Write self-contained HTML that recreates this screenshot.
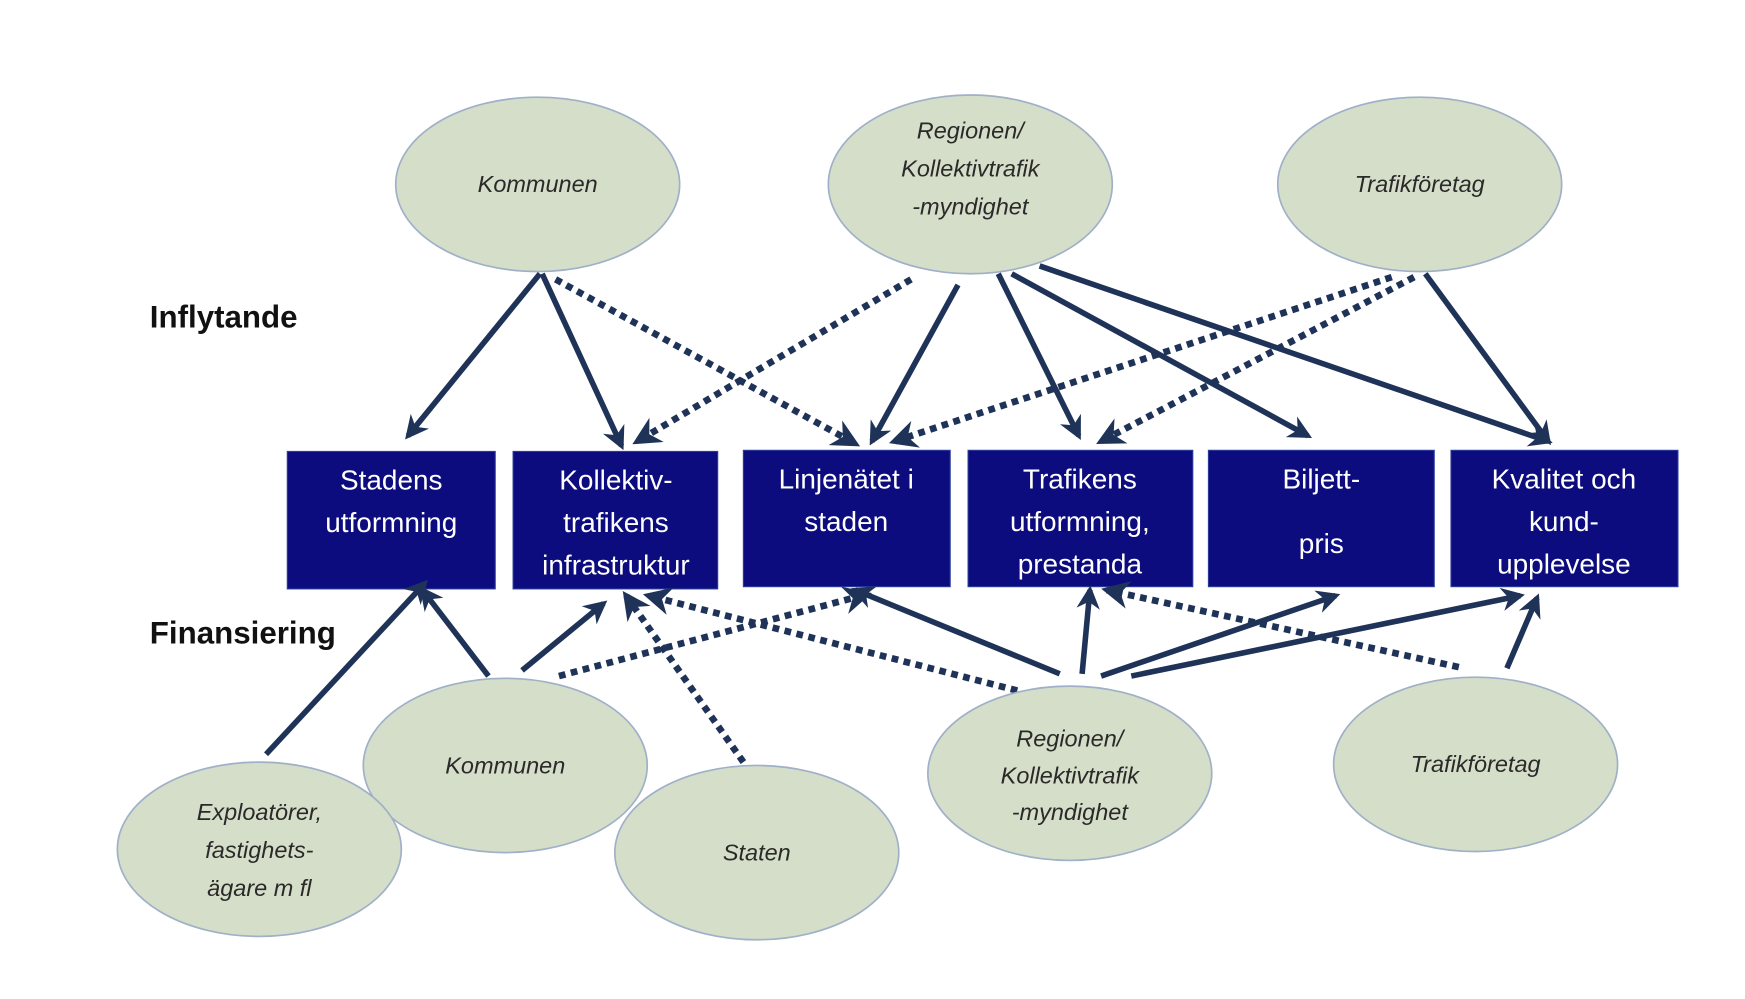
<!DOCTYPE html>
<html><head><meta charset="utf-8"><style>
html,body{margin:0;padding:0;background:#fff;}
svg{display:block;}
.el{fill:#d5dec8;stroke:#9fb0c8;stroke-width:1.5;}
.et{font-family:"Liberation Sans",sans-serif;font-style:italic;font-size:21px;fill:#2a2a2a;text-anchor:middle;}
.bx{fill:#0c0c7e;stroke:#2a3a9a;stroke-width:1;}
.bt{font-family:"Liberation Sans",sans-serif;font-size:25px;fill:#fff;text-anchor:middle;}
.s{stroke:#1f3358;stroke-width:5;fill:none;marker-end:url(#ah);}
.d{stroke:#1f3358;stroke-width:6;fill:none;stroke-dasharray:6 5;marker-end:url(#ah);}
.lb{font-family:"Liberation Sans",sans-serif;font-weight:bold;font-size:28px;fill:#111;}
</style></head><body>
<svg width="1745" height="999" viewBox="0 0 1561 894" preserveAspectRatio="none">
<defs><marker id="ah" viewBox="0 0 10 10" refX="8" refY="5" markerWidth="4.2" markerHeight="4.2" orient="auto" markerUnits="strokeWidth"><path d="M0,0 L10,5 L0,10 L3,5 z" fill="#1f3358"/></marker></defs>

<text class="lb" x="134" y="293">Inflytande</text>
<text class="lb" x="134" y="576">Finansiering</text>

<!-- top ellipses -->
<ellipse class="el" cx="481" cy="165" rx="127" ry="78"/>
<text class="et" x="481" y="172">Kommunen</text>
<ellipse class="el" cx="868" cy="165" rx="127" ry="80"/>
<text class="et" x="868" y="124">Regionen/</text>
<text class="et" x="868" y="158">Kollektivtrafik</text>
<text class="et" x="868" y="192">-myndighet</text>
<ellipse class="el" cx="1270" cy="165" rx="127" ry="78"/>
<text class="et" x="1270" y="172">Trafikföretag</text>

<!-- boxes -->
<rect class="bx" x="257" y="404" width="186" height="123"/>
<text class="bt" x="350" y="438">Stadens</text><text class="bt" x="350" y="476">utformning</text>
<rect class="bx" x="459" y="404" width="183" height="123"/>
<text class="bt" x="551" y="438">Kollektiv-</text><text class="bt" x="551" y="476">trafikens</text><text class="bt" x="551" y="514">infrastruktur</text>
<rect class="bx" x="665" y="403" width="185" height="122"/>
<text class="bt" x="757" y="437">Linjenätet i</text><text class="bt" x="757" y="475">staden</text>
<rect class="bx" x="866" y="403" width="201" height="122"/>
<text class="bt" x="966" y="437">Trafikens</text><text class="bt" x="966" y="475">utformning,</text><text class="bt" x="966" y="513">prestanda</text>
<rect class="bx" x="1081" y="403" width="202" height="122"/>
<text class="bt" x="1182" y="437">Biljett-</text><text class="bt" x="1182" y="495">pris</text>
<rect class="bx" x="1298" y="403" width="203" height="122"/>
<text class="bt" x="1399" y="437">Kvalitet och</text><text class="bt" x="1399" y="475">kund-</text><text class="bt" x="1399" y="513">upplevelse</text>

<!-- top arrows -->
<line class="s" x1="483" y1="245" x2="365" y2="390"/>
<line class="s" x1="485" y1="245" x2="556" y2="399"/>
<line class="d" x1="497" y1="250" x2="765" y2="397"/>
<line class="d" x1="815" y1="250" x2="570" y2="395"/>
<line class="s" x1="857" y1="255" x2="780" y2="395"/>
<line class="s" x1="893" y1="245" x2="965" y2="390"/>
<line class="s" x1="905" y1="245" x2="1170" y2="390"/>
<line class="s" x1="930" y1="238" x2="1385" y2="395"/>
<line class="d" x1="1245" y1="248" x2="800" y2="395"/>
<line class="d" x1="1265" y1="248" x2="985" y2="395"/>
<line class="s" x1="1275" y1="245" x2="1385" y2="395"/>

<!-- bottom arrows -->
<line class="s" x1="238" y1="675" x2="380" y2="522"/>
<line class="s" x1="437" y1="605" x2="378" y2="528"/>
<line class="s" x1="467" y1="600" x2="540" y2="540"/>
<line class="d" x1="500" y1="605" x2="775" y2="532"/>
<line class="d" x1="665" y1="682" x2="560" y2="533"/>
<line class="d" x1="910" y1="618" x2="580" y2="533"/>
<line class="s" x1="948" y1="603" x2="765" y2="528"/>
<line class="s" x1="968" y1="603" x2="975" y2="528"/>
<line class="s" x1="985" y1="605" x2="1195" y2="533"/>
<line class="s" x1="1012" y1="605" x2="1360" y2="533"/>
<line class="d" x1="1305" y1="597" x2="990" y2="528"/>
<line class="s" x1="1348" y1="598" x2="1375" y2="535"/>

<!-- bottom ellipses -->
<ellipse class="el" cx="452" cy="685" rx="127" ry="78"/>
<text class="et" x="452" y="692">Kommunen</text>
<ellipse class="el" cx="677" cy="763" rx="127" ry="78"/>
<text class="et" x="677" y="770">Staten</text>
<ellipse class="el" cx="232" cy="760" rx="127" ry="78"/>
<text class="et" x="232" y="734">Exploatörer,</text>
<text class="et" x="232" y="768">fastighets-</text>
<text class="et" x="232" y="802">ägare m fl</text>
<ellipse class="el" cx="957" cy="692" rx="127" ry="78"/>
<text class="et" x="957" y="668">Regionen/</text>
<text class="et" x="957" y="701">Kollektivtrafik</text>
<text class="et" x="957" y="734">-myndighet</text>
<ellipse class="el" cx="1320" cy="684" rx="127" ry="78"/>
<text class="et" x="1320" y="691">Trafikföretag</text>
</svg>
</body></html>
